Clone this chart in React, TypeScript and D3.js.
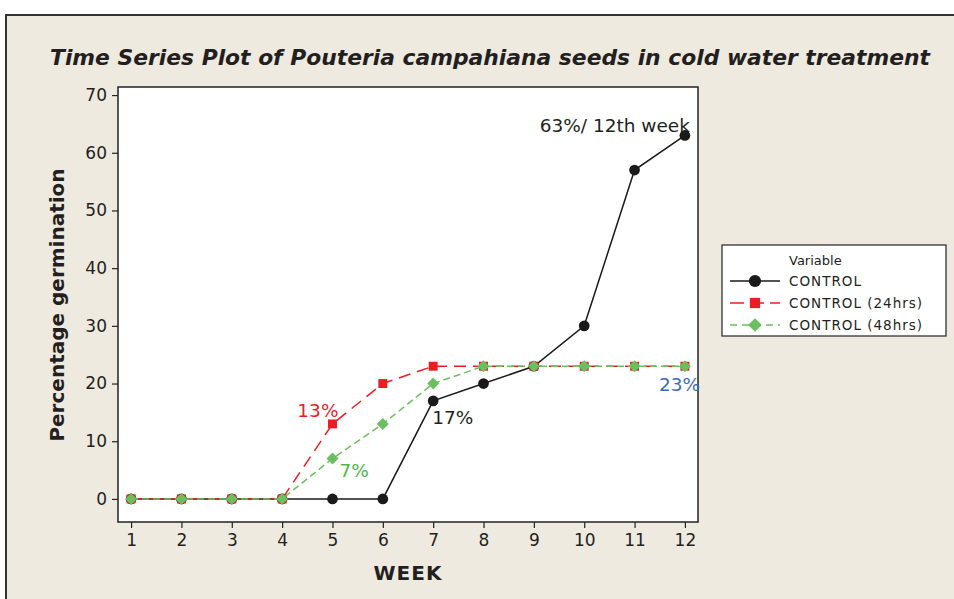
import { useRef, useEffect } from "react";
import * as d3 from "d3";

const weeks = [1, 2, 3, 4, 5, 6, 7, 8, 9, 10, 11, 12];
const control = [0, 0, 0, 0, 0, 0, 17, 20, 23, 30, 57, 63];
const control24 = [0, 0, 0, 0, 13, 20, 23, 23, 23, 23, 23, 23];
const control48 = [0, 0, 0, 0, 7, 13, 20, 23, 23, 23, 23, 23];
const yTicks = [0, 10, 20, 30, 40, 50, 60, 70];
const seriesNames = ["CONTROL", "CONTROL (24hrs)", "CONTROL (48hrs)"];

const W = 954;
const H = 599;
const FONT = "'DejaVu Sans', Verdana, sans-serif";

export default function App() {
  const svgRef = useRef<SVGSVGElement>(null);

  useEffect(() => {
    const svg = d3.select(svgRef.current);
    svg.selectAll("*").remove();

    // outer panel
    svg.append("rect").attr("width", W).attr("height", H).attr("fill", "#fff");
    svg
      .append("rect")
      .attr("x", 6)
      .attr("y", 15)
      .attr("width", W)
      .attr("height", H)
      .attr("fill", "#eeeae0")
      .attr("stroke", "#333")
      .attr("stroke-width", 2);

    const x = d3.scaleLinear().domain([0.74, 12.26]).range([118, 698]);
    const y = d3.scaleLinear().domain([-4, 71.4]).range([522, 87]);

    svg
      .append("rect")
      .attr("x", 118)
      .attr("y", 87)
      .attr("width", 580)
      .attr("height", 435)
      .attr("fill", "#fff")
      .attr("stroke", "#222")
      .attr("stroke-width", 1.5);

    svg
      .append("text")
      .attr("x", 490)
      .attr("y", 65)
      .attr("text-anchor", "middle")
      .attr("font-family", FONT)
      .attr("font-weight", "bold")
      .attr("font-style", "italic")
      .attr("font-size", 21)
      .attr("textLength", 880)
      .attr("lengthAdjust", "spacingAndGlyphs")
      .attr("fill", "#231f20")
      .text("Time Series Plot of Pouteria campahiana seeds in cold water treatment");

    const yAxis = svg
      .append("g")
      .attr("transform", "translate(118,0)")
      .call(d3.axisLeft(y).tickValues(yTicks).tickSize(6).tickPadding(5));
    const xAxis = svg
      .append("g")
      .attr("transform", "translate(0,522)")
      .call(d3.axisBottom(x).tickValues(weeks).tickSize(6).tickPadding(6));
    [yAxis, xAxis].forEach((a) => {
      a.select(".domain").remove();
      a.selectAll("line").attr("stroke", "#222").attr("stroke-width", 1.2);
      a.selectAll("text")
        .attr("font-family", FONT)
        .attr("font-size", 17)
        .attr("fill", "#231f20");
    });

    svg
      .append("text")
      .attr("transform", "translate(64,305) rotate(-90)")
      .attr("text-anchor", "middle")
      .attr("font-family", FONT)
      .attr("font-weight", "bold")
      .attr("font-size", 20)
      .attr("fill", "#231f20")
      .text("Percentage germination");
    svg
      .append("text")
      .attr("x", 408)
      .attr("y", 580)
      .attr("text-anchor", "middle")
      .attr("font-family", FONT)
      .attr("font-weight", "bold")
      .attr("font-size", 20)
      .attr("letter-spacing", 1)
      .attr("fill", "#231f20")
      .text("WEEK");

    const series = [
      { name: seriesNames[0], values: control, color: "#1a1a1a", dash: null, legendDash: null, shape: "circle" },
      { name: seriesNames[1], values: control24, color: "#ed1c24", dash: "12,7", legendDash: "14,6", shape: "square" },
      { name: seriesNames[2], values: control48, color: "#6cbf5f", dash: "7,4", legendDash: "7,5", shape: "diamond" },
    ];

    const symbolPath = (shape: string, scale = 1) => {
      if (shape === "circle") return d3.symbol(d3.symbolCircle, 90 * scale)();
      if (shape === "square") return d3.symbol(d3.symbolSquare, 80 * scale)();
      return d3.symbol(d3.symbolSquare, 72 * scale)();
    };
    const rot = (shape: string) => (shape === "diamond" ? " rotate(45)" : "");

    const line = d3
      .line<number>()
      .x((d, i) => x(weeks[i]))
      .y((d) => y(d));

    series.forEach((s) => {
      svg
        .append("path")
        .datum(s.values)
        .attr("fill", "none")
        .attr("stroke", s.color)
        .attr("stroke-width", 1.5)
        .attr("stroke-dasharray", s.dash)
        .attr("d", line);
      svg
        .append("g")
        .selectAll("path")
        .data(s.values)
        .join("path")
        .attr("transform", (d, i) => `translate(${x(weeks[i])},${y(d)})${rot(s.shape)}`)
        .attr("fill", s.color)
        .attr("d", () => symbolPath(s.shape));
    });

    // annotations
    const notes = [
      { text: "63%/ 12th week", wx: 12.1, wy: 63, dx: 0, dy: -3, anchor: "end", color: "#231f20" },
      { text: "17%", wx: 7, wy: 17, dx: -1, dy: 23, anchor: "start", color: "#231f20" },
      { text: "13%", wx: 5, wy: 13, dx: 6, dy: -7, anchor: "end", color: "#ed1c24" },
      { text: "7%", wx: 5, wy: 7, dx: 7, dy: 18, anchor: "start", color: "#4cb84a" },
      { text: "23%", wx: 12.3, wy: 23, dx: 0, dy: 25, anchor: "end", color: "#3b6db5" },
    ];
    svg
      .append("g")
      .selectAll("text")
      .data(notes)
      .join("text")
      .attr("x", (d) => x(d.wx) + d.dx)
      .attr("y", (d) => y(d.wy) + d.dy)
      .attr("text-anchor", (d) => d.anchor)
      .attr("font-family", FONT)
      .attr("font-size", 18.5)
      .attr("fill", (d) => d.color)
      .text((d) => d.text);

    // legend
    const lg = svg.append("g").attr("transform", "translate(722,245)");
    lg.append("rect")
      .attr("width", 224)
      .attr("height", 91)
      .attr("fill", "#fff")
      .attr("stroke", "#222")
      .attr("stroke-width", 1.2);
    lg.append("text")
      .attr("x", 67)
      .attr("y", 20)
      .attr("font-family", FONT)
      .attr("font-size", 13)
      .attr("fill", "#231f20")
      .text("Variable");
    series.forEach((s, i) => {
      const ly = 36 + i * 22;
      lg.append("line")
        .attr("x1", 8)
        .attr("x2", 58)
        .attr("y1", ly)
        .attr("y2", ly)
        .attr("stroke", s.color)
        .attr("stroke-width", 1.5)
        .attr("stroke-dasharray", s.legendDash);
      lg.append("path")
        .attr("transform", `translate(33,${ly})${rot(s.shape)}`)
        .attr("fill", s.color)
        .attr("d", symbolPath(s.shape, 1.3));
      lg.append("text")
        .attr("x", 67)
        .attr("y", ly + 5)
        .attr("font-family", FONT)
        .attr("font-size", 13.5)
        .attr("letter-spacing", 1)
        .attr("fill", "#231f20")
        .text(s.name);
    });
  }, []);

  return (
    <svg
      ref={svgRef}
      width={W}
      height={H}
      style={{ position: "absolute", left: 0, top: 0, display: "block" }}
    ></svg>
  );
}
